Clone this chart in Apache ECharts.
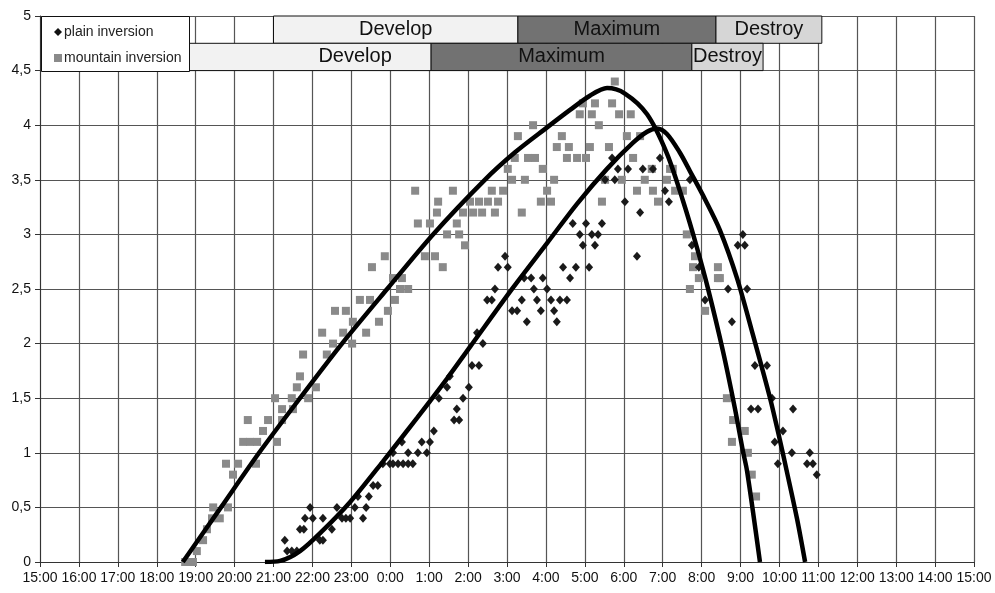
<!DOCTYPE html>
<html>
<head>
<meta charset="utf-8">
<script src="https://cdn.jsdelivr.net/npm/echarts@6/dist/echarts.min.js"></script>
<style>html,body{margin:0;padding:0;background:#fff}#c{width:995px;height:593px}</style>
</head>
<body>
<div id="c"></div>
<script>
// x values: hours after 15:00
var xTickLabels = ['15:00','16:00','17:00','18:00','19:00','20:00','21:00','22:00','23:00','0:00','1:00','2:00','3:00','4:00','5:00','6:00','7:00','8:00','9:00','10:00','11:00','12:00','13:00','14:00','15:00'];
var yTickLabels = ['0','0,5','1','1,5','2','2,5','3','3,5','4','4,5','5'];

var plainPoints = [[6.29,0.2],[6.35,0.1],[6.47,0.1],[6.60,0.1],[6.78,0.3],[6.68,0.3],[6.94,0.5],[6.81,0.4],[7.01,0.4],[7.27,0.4],[7.19,0.2],[7.27,0.2],[7.50,0.3],[7.63,0.5],[7.76,0.4],[7.86,0.4],[7.97,0.4],[8.30,0.4],[8.09,0.5],[8.38,0.5],[8.17,0.6],[8.45,0.6],[8.56,0.7],[8.68,0.7],
[8.81,0.9],[8.99,0.9],[9.07,0.9],[9.20,0.9],[9.33,0.9],[9.46,0.9],[9.58,0.9],
[9.07,1.0],[9.46,1.0],[9.71,1.0],[9.94,1.0],
[9.30,1.1],[9.81,1.1],[10.02,1.1],[10.12,1.2],[10.25,1.5],[10.46,1.6],[10.53,1.7],[10.64,1.3],[10.77,1.3],[10.71,1.4],[10.87,1.5],[11.02,1.6],[11.10,1.8],[11.28,1.8],[11.38,2.0],[11.23,2.1],
[11.49,2.4],[11.61,2.4],[11.69,2.5],[11.77,2.7],[11.95,2.8],[12.02,2.7],[12.13,2.3],[12.26,2.3],[12.38,2.4],[12.44,2.6],[12.62,2.6],[12.51,2.2],[12.69,2.5],[12.77,2.4],[12.87,2.3],[12.92,2.6],[13.03,2.5],[13.13,2.4],[13.21,2.3],[13.28,2.2],[13.36,2.4],[13.54,2.4],[13.44,2.7],[13.62,2.6],[13.77,2.7],[13.87,3.0],[13.95,2.9],[14.11,2.7],[14.18,3.0],[14.34,3.0],[14.26,2.9],[13.69,3.1],[14.03,3.1],[14.44,3.1],[15.34,2.8],
[14.70,3.7],[14.85,3.6],[15.11,3.6],[14.52,3.5],[14.77,3.5],[15.03,3.3],[15.42,3.2],[15.49,3.6],[15.75,3.6],[16.06,3.4],[16.16,3.3],[15.93,3.7],[16.70,3.5],[16.75,2.9],[16.93,2.7],[17.09,2.4],[17.68,2.5],[18.17,2.5],[17.78,2.2],[18.06,3.0],[17.93,2.9],[18.11,2.9],[18.37,1.8],[18.68,1.8],[18.27,1.4],[18.45,1.4],[19.35,1.4],[18.81,1.5],[19.09,1.2],[18.88,1.1],[19.32,1.0],[19.78,1.0],[18.96,0.9],[19.71,0.9],[19.86,0.9],[19.96,0.8]];

var mountainPoints = [[3.73,0],[3.78,0],[3.93,0],[4.03,0.1],[4.19,0.2],[4.29,0.3],[4.42,0.4],[4.62,0.4],[4.45,0.5],[4.83,0.5],
[4.78,0.9],[5.09,0.9],[4.96,0.8],[5.55,0.9],
[5.22,1.1],[5.40,1.1],[5.58,1.1],[6.09,1.1],[5.73,1.2],[5.34,1.3],[5.86,1.3],[6.22,1.3],
[6.04,1.5],[6.47,1.5],[6.89,1.5],[6.22,1.4],[6.50,1.4],[6.60,1.6],[7.09,1.6],[6.68,1.7],[6.76,1.9],[7.37,1.9],
[7.53,2.0],[8.02,2.0],[7.25,2.1],[7.79,2.1],[8.38,2.1],[8.04,2.2],[8.71,2.2],[7.58,2.3],[7.86,2.3],[8.94,2.3],
[8.22,2.4],[8.48,2.4],[9.12,2.4],[9.25,2.5],[9.46,2.5],[9.07,2.6],[9.30,2.6],[8.53,2.7],[8.86,2.8],[9.89,2.8],[10.15,2.8],[10.35,2.7],
[9.71,3.1],[10.02,3.1],[10.23,3.3],[10.20,3.2],[9.64,3.4],[10.46,3.0],[10.77,3.0],[10.61,3.4],[10.71,3.1],[10.87,3.2],[10.92,2.9],[11.05,3.3],[11.13,3.2],[11.36,3.2],[11.28,3.3],[11.51,3.3],[11.77,3.3],[11.69,3.2],[11.61,3.4],[11.90,3.4],[12.02,3.6],[12.20,3.7],[12.28,3.9],[12.13,3.5],[12.46,3.5],[12.38,3.2],[12.54,3.7],[12.72,3.7],[12.67,4.0],[12.87,3.3],[13.13,3.3],[12.92,3.6],[13.03,3.4],[13.21,3.5],[13.28,3.8],[13.59,3.8],[13.41,3.9],[13.54,3.7],[13.80,3.7],[14.03,3.7],[13.87,4.1],[14.18,4.1],[13.95,4.2],[14.26,4.2],[14.13,3.8],[14.36,4.0],[14.44,3.3],[14.52,3.5],[14.62,3.8],[14.70,4.2],[14.77,4.4],[14.88,4.1],[15.18,4.1],[14.95,3.5],[15.08,3.9],[15.24,3.7],[15.34,3.4],[15.42,3.9],[15.54,3.5],[15.75,3.4],[15.72,3.6],[15.88,3.3],[16.11,3.5],[16.19,3.6],[16.32,3.4],[16.26,3.6],[16.52,3.4],[16.62,3.0],[16.83,2.8],[16.78,2.7],[16.93,2.6],[17.42,2.6],[17.47,2.6],[16.70,2.5],[17.42,2.7],[17.09,2.3],[17.65,1.5],[17.81,1.3],[18.11,1.2],[17.78,1.1],[18.19,1.0],[18.29,0.8],[18.40,0.6]];

var plainTrend = [[5.78,0],[6.17,0.01],[6.68,0.10],[7.27,0.29],[7.97,0.55],[8.81,0.92],[9.69,1.32],[10.46,1.68],[11.05,1.97],[12.15,2.51],[13.03,2.92],[13.80,3.28],[14.57,3.60],[15.24,3.84],[15.60,3.94],[15.85,3.97],[16.11,3.92],[16.44,3.75],[16.70,3.58],[17.09,3.32],[17.47,3.04],[17.91,2.60],[18.32,2.08],[18.76,1.50],[19.01,1.12],[19.19,0.83],[19.45,0.40],[19.66,0]];

var mountainTrend = [[3.67,0],[4.65,0.5],[5.63,1.0],[6.68,1.5],[7.76,2.0],[8.92,2.5],[10.10,3.0],[11.43,3.5],[12.20,3.75],[13.03,3.98],[13.62,4.14],[14.13,4.27],[14.57,4.34],[15.03,4.29],[15.60,4.10],[16.11,3.74],[16.52,3.31],[16.88,2.88],[17.16,2.51],[17.55,1.93],[17.86,1.40],[18.06,1.02],[18.17,0.83],[18.50,0]];

// phases: [name, from, to]
var plainPhases = [['Develop',6.0,12.28],['Maximum',12.28,17.37],['Destroy',17.37,20.09]];
var mountainPhases = [['Develop',3.83,10.05],['Maximum',10.05,16.75],['Destroy',16.75,18.58]];
var phaseColors = {Develop:'#f2f2f2', Maximum:'#727272', Destroy:'#d6d6d6'};

function phaseAreas(list, y0, y1, offsets) {
  return list.map(function (p, i) {
    return [{
      name: p[0], xAxis: p[1], yAxis: y0,
      itemStyle: {color: phaseColors[p[0]], borderColor: '#111', borderWidth: 1, opacity: 1},
      label: {offset: [offsets[i], 0]}
    }, {xAxis: p[2], yAxis: y1}];
  });
}

var FONT = "'Liberation Sans', Arial, sans-serif";
var chart = echarts.init(document.getElementById('c'));
chart.setOption({
  animation: false,
  backgroundColor: '#fff',
  textStyle: {fontFamily: FONT},
  grid: {left: 40, right: 21, top: 16, bottom: 31, containLabel: false},
  xAxis: {
    type: 'value', min: 0, max: 24, interval: 1,
    axisLine: {show: true, lineStyle: {color: '#333', width: 1}},
    axisTick: {show: true, length: 5, lineStyle: {color: '#333'}},
    splitLine: {show: true, lineStyle: {color: '#555', width: 1.2}},
    axisLabel: {color: '#111', fontSize: 14, margin: 9, fontFamily: FONT,
      formatter: function (v) { return xTickLabels[Math.round(v)]; }}
  },
  yAxis: {
    type: 'value', min: 0, max: 5, interval: 0.5,
    axisLine: {show: true, lineStyle: {color: '#333', width: 1}},
    axisTick: {show: true, length: 5, lineStyle: {color: '#333'}},
    splitLine: {show: true, lineStyle: {color: '#555', width: 1.2}},
    axisLabel: {color: '#111', fontSize: 14, margin: 9, fontFamily: FONT,
      formatter: function (v) { return yTickLabels[Math.round(v * 2)]; }}
  },
  graphic: [{
    type: 'rect', left: 41, top: 16, z: 50,
    shape: {width: 148, height: 55},
    style: {fill: '#fff', stroke: '#111', lineWidth: 1}
  }],
  legend: {
    z: 60, orient: 'vertical', left: 49, top: 20, itemGap: 12,
    itemWidth: 8, itemHeight: 8,
    textStyle: {fontSize: 14, color: '#222', fontFamily: FONT, padding: [0, 0, 0, -3]},
    data: [
      {name: 'plain inversion', icon: 'diamond', itemStyle: {color: '#111'}},
      {name: 'mountain inversion', icon: 'rect', itemStyle: {color: '#8a8a8a'}}
    ]
  },
  series: [
    {
      name: 'mountain inversion', type: 'scatter', symbol: 'rect', symbolSize: 8,
      itemStyle: {color: '#8a8a8a', opacity: 1},
      data: mountainPoints,
      markArea: {
        silent: true,
        label: {show: true, position: 'inside', color: '#111', fontSize: 20, fontFamily: FONT},
        data: phaseAreas(plainPhases, 4.75, 5, [0, 0, 0]).concat(phaseAreas(mountainPhases, 4.5, 4.75, [45, 0, 0]))
      }
    },
    {
      name: 'plain inversion', type: 'scatter', symbol: 'diamond', symbolSize: [8, 9],
      itemStyle: {color: '#1a1a1a', opacity: 1},
      data: plainPoints
    },
    {
      name: 'plainTrend', type: 'line', data: plainTrend, smooth: 0.3, showSymbol: false,
      lineStyle: {color: '#000', width: 4.5}, z: 5
    },
    {
      name: 'mountainTrend', type: 'line', data: mountainTrend, smooth: 0.3, showSymbol: false,
      lineStyle: {color: '#000', width: 4.5}, z: 5
    }
  ]
});
</script>
</body>
</html>
